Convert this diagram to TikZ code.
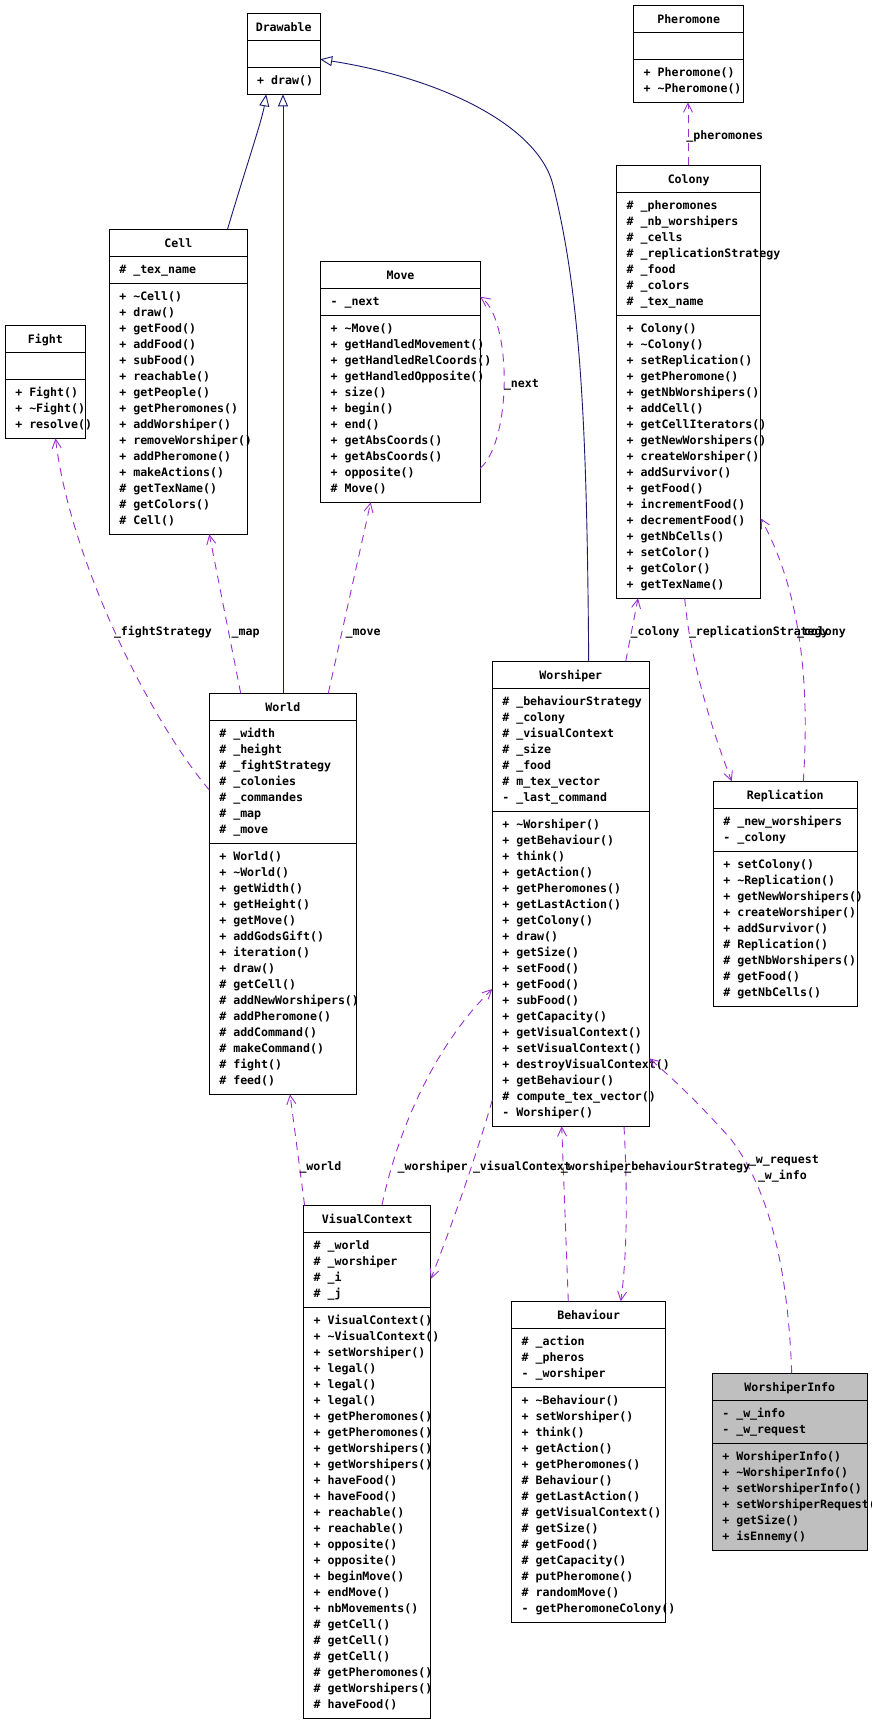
\documentclass[tikz,border=0pt]{standalone}
\usepackage{fontspec}
\setmonofont{DejaVu Sans Mono}
\usetikzlibrary{arrows.meta,calc}
\definecolor{usecol}{HTML}{9A32CD}
\definecolor{inhcol}{HTML}{191970}
\definecolor{infofill}{HTML}{BFBFBF}
\newcommand\tld{\textasciitilde}
\newcommand\umlfont{\ttfamily\bfseries\fontsize{11.6pt}{14pt}\selectfont}
\def\clsfill{white}
\tikzset{
 clsbox/.style={draw=black, line width=1pt, fill=\clsfill, inner sep=0, outer sep=0},
 clsline/.style={draw=black, line width=1pt},
 clstxt/.style={font=\umlfont, inner sep=0, outer sep=0},
 uses/.style={draw=usecol, line width=0.9pt, dash pattern=on 8pt off 6pt, -{Straight Barb[length=9pt,width=9pt]}},
 inherit/.style={draw=inhcol, line width=0.9pt, -{Triangle[open,length=12pt,width=10pt,fill=white]}},
 lbl/.style={font=\umlfont, inner sep=0, outer sep=0, anchor=base west},
}
% #1 name, #2 x, #3 y, #4 width, #5 title, #6 nA, #7 attrs, #8 nM, #9 methods
\newcommand\umlclass[9]{%
 \pgfmathsetmacro\hA{27+16*max(#6-1,0)}%
 \pgfmathsetmacro\hM{27+16*(#8-1)}%
 \pgfmathsetmacro\hT{27+\hA+\hM}%
 \node[clsbox, anchor=north west, minimum width=#4pt, minimum height=\hT pt] (#1) at (#2,#3) {};
 \draw[clsline] ($(#1.north west)+(0,27)$) -- ++(#4,0);
 \draw[clsline] ($(#1.north west)+(0,27+\hA)$) -- ++(#4,0);
 \node[clstxt, anchor=base] (#1-t) at ($(#1.north)+(0,18)$) {#5};
 \ifnum#6>0
 \foreach \itm [count=\idx from 0] in {#7} {\node[clstxt, anchor=base west] (#1-a\idx) at ($(#1.north west)+(10,27+17.5+16*\idx)$) {\itm};}
 \fi
 \foreach \itm [count=\idx from 0] in {#9} {\node[clstxt, anchor=base west] (#1-m\idx) at ($(#1.north west)+(10,27+\hA+17.5+16*\idx)$) {\itm};}
}
\begin{document}
\begin{tikzpicture}[x=1pt,y=-1pt]
\fill[white] (0,0) rectangle (871,1722);
\useasboundingbox (0,0) rectangle (871,1722);

\umlclass{drawable}{247.2}{13.3}{73}{Drawable}{0}{}{1}{+ draw()}
\umlclass{pheromone}{633.7}{5.3}{110}{Pheromone}{0}{}{2}{+ Pheromone(), + \tld Pheromone()}
\umlclass{cell}{109.3}{229.3}{138}{Cell}{1}{\# \_tex\_name}{15}{+ \tld Cell(), + draw(), + getFood(), + addFood(), + subFood(), + reachable(), + getPeople(), + getPheromones(), + addWorshiper(), + removeWorshiper(), + addPheromone(), + makeActions(), \# getTexName(), \# getColors(), \# Cell()}
\umlclass{fight}{5.3}{325.3}{80}{Fight}{0}{}{3}{+ Fight(), + \tld Fight(), + resolve()}
\umlclass{move}{320.7}{261.3}{159.6}{Move}{1}{- \_next}{11}{+ \tld Move(), + getHandledMovement(), + getHandledRelCoords(), + getHandledOpposite(), + size(), + begin(), + end(), + getAbsCoords(), + getAbsCoords(), + opposite(), \# Move()}
\umlclass{colony}{616.7}{165.3}{144}{Colony}{7}{\# \_pheromones, \# \_nb\_worshipers, \# \_cells, \# \_replicationStrategy, \# \_food, \# \_colors, \# \_tex\_name}{17}{+ Colony(), + \tld Colony(), + setReplication(), + getPheromone(), + getNbWorshipers(), + addCell(), + getCellIterators(), + getNewWorshipers(), + createWorshiper(), + addSurvivor(), + getFood(), + incrementFood(), + decrementFood(), + getNbCells(), + setColor(), + getColor(), + getTexName()}
\umlclass{world}{209.3}{693.3}{147}{World}{7}{\# \_width, \# \_height, \# \_fightStrategy, \# \_colonies, \# \_commandes, \# \_map, \# \_move}{15}{+ World(), + \tld World(), + getWidth(), + getHeight(), + getMove(), + addGodsGift(), + iteration(), + draw(), \# getCell(), \# addNewWorshipers(), \# addPheromone(), \# addCommand(), \# makeCommand(), \# fight(), \# feed()}
\umlclass{worshiper}{492.3}{661.3}{157}{Worshiper}{7}{\# \_behaviourStrategy, \# \_colony, \# \_visualContext, \# \_size, \# \_food, \# m\_tex\_vector, - \_last\_command}{19}{+ \tld Worshiper(), + getBehaviour(), + think(), + getAction(), + getPheromones(), + getLastAction(), + getColony(), + draw(), + getSize(), + setFood(), + getFood(), + subFood(), + getCapacity(), + getVisualContext(), + setVisualContext(), + destroyVisualContext(), + getBehaviour(), \# compute\_tex\_vector(), - Worshiper()}
\umlclass{replication}{713.3}{781.3}{144}{Replication}{2}{\# \_new\_worshipers, - \_colony}{9}{+ setColony(), + \tld Replication(), + getNewWorshipers(), + createWorshiper(), + addSurvivor(), \# Replication(), \# getNbWorshipers(), \# getFood(), \# getNbCells()}
\umlclass{visualcontext}{303.6}{1205.3}{127.2}{VisualContext}{4}{\# \_world, \# \_worshiper, \# \_i, \# \_j}{25}{+ VisualContext(), + \tld VisualContext(), + setWorshiper(), + legal(), + legal(), + legal(), + getPheromones(), + getPheromones(), + getWorshipers(), + getWorshipers(), + haveFood(), + haveFood(), + reachable(), + reachable(), + opposite(), + opposite(), + beginMove(), + endMove(), + nbMovements(), \# getCell(), \# getCell(), \# getCell(), \# getPheromones(), \# getWorshipers(), \# haveFood()}
\umlclass{behaviour}{511.7}{1301.3}{154}{Behaviour}{3}{\# \_action, \# \_pheros, - \_worshiper}{14}{+ \tld Behaviour(), + setWorshiper(), + think(), + getAction(), + getPheromones(), \# Behaviour(), \# getLastAction(), \# getVisualContext(), \# getSize(), \# getFood(), \# getCapacity(), \# putPheromone(), \# randomMove(), - getPheromoneColony()}
\def\clsfill{infofill}
\umlclass{worshiperinfo}{712.3}{1373.3}{155}{WorshiperInfo}{2}{- \_w\_info, - \_w\_request}{6}{+ WorshiperInfo(), + \tld WorshiperInfo(), + setWorshiperInfo(), + setWorshiperRequest(), + getSize(), + isEnnemy()}
\def\clsfill{white}

% inheritance
\draw[inherit] ($(cell.north west)+(118.2,0)$) .. controls +(17.5,-59) and +(-4.2,26) .. ($(drawable.south west)+(19,0)$);
\draw[inherit] ($(world.north west)+(73.7,0)$) -- ($(drawable.south west)+(35.8,0)$);
\draw[inherit] ($(worshiper.north west)+(96.4,0)$) .. controls (587,440) and (582,300) .. (553,185) .. controls (538,125) and (440,78) .. ($(drawable.north east)+(0,46)$);

% usage
\draw[uses] ($(colony.north west)+(71.3,0)$) -- ($(pheromone.south west)+(54.3,0)$);
\draw[uses] ($(world.north west)+(0,96.7)$) .. controls (150,720) and (70,560) .. ($(fight.south west)+(50.2,0)$);
\draw[uses] ($(world.north west)+(31.4,0)$) -- ($(cell.south west)+(100,0)$);
\draw[uses] ($(world.north west)+(119,0)$) -- ($(move.south west)+(50,0)$);
\draw[uses] ($(move.north east)+(0,207)$) .. controls (512,440) and (512,320) .. ($(move.north east)+(0,35.4)$);
\draw[uses] ($(worshiper.north west)+(133.4,0)$) -- ($(colony.south west)+(21.3,0)$);
\draw[uses] ($(colony.south west)+(68,0)$) .. controls (690,660) and (712,730) .. ($(replication.north west)+(18.4,0)$);
\draw[uses] ($(replication.north west)+(90,0)$) .. controls (810,680) and (800,590) .. ($(colony.north east)+(0,353)$);
\draw[uses] ($(visualcontext.north west)+(1,0)$) -- ($(world.south west)+(80.7,0)$);
\draw[uses] ($(visualcontext.north west)+(78.3,0)$) .. controls (400,1120) and (440,1040) .. ($(worshiper.north west)+(0,327.7)$);
\draw[uses] ($(worshiper.north west)+(0,438.7)$) .. controls (475,1160) and (450,1230) .. ($(visualcontext.north east)+(0,73.6)$);
\draw[uses] ($(behaviour.north west)+(56.6,0)$) -- ($(worshiper.south west)+(69.4,0)$);
\draw[uses] ($(worshiper.south west)+(131.7,0)$) .. controls (627,1180) and (628,1250) .. ($(behaviour.north west)+(109,0)$);
\draw[uses] ($(worshiperinfo.north west)+(79.4,0)$) .. controls (788,1270) and (770,1190) .. (730,1138) .. controls (700,1105) and (680,1085) .. ($(worshiper.north east)+(0,397)$);

% labels
\node[lbl] (lpher) at (686.3,139) {\_pheromones};
\node[lbl] (lnext) at (504,387) {\_next};
\node[lbl] (lfight) at (114,635.7) {\_fightStrategy};
\node[lbl] (lmap) at (231.7,635.7) {\_map};
\node[lbl] (lmove) at (345.6,635.7) {\_move};
\node[lbl] (lcol1) at (630.6,635.7) {\_colony};
\node[lbl] (lrep) at (689,635.7) {\_replicationStrategy};
\node[lbl] (lcol2) at (797,635.7) {\_colony};
\node[lbl] (lworld) at (299.5,1170.7) {\_world};
\node[lbl] (lwor1) at (397.7,1170.7) {\_worshiper};
\node[lbl] (lvis) at (473,1170.7) {\_visualContext};
\node[lbl] (lwor2) at (560.9,1170.7) {\_worshiper};
\node[lbl] (lbeh) at (624.3,1170.7) {\_behaviourStrategy};
\node[lbl] (lwreq) at (749,1163.3) {\_w\_request};
\node[lbl] (lwinfo) at (758,1179) {\_w\_info};
\end{tikzpicture}
\end{document}
